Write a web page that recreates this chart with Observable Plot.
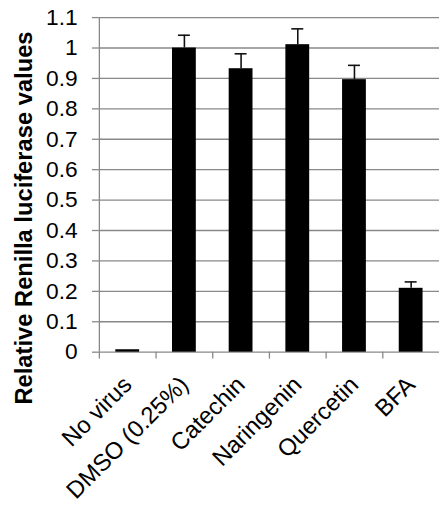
<!DOCTYPE html>
<html>
<head>
<meta charset="utf-8">
<script src="https://cdn.jsdelivr.net/npm/d3@7"></script>
<script src="https://cdn.jsdelivr.net/npm/@observablehq/plot@0.6"></script>
<style>
  html, body { margin: 0; padding: 0; background: #fff; overflow: hidden; }
  #chart { width: 439px; height: 508px; overflow: hidden; }
  svg { font-family: "Liberation Sans", Arial, sans-serif; }
</style>
</head>
<body>
<div id="chart"></div>
<script>
const categories = ["No virus", "DMSO (0.25%)", "Catechin", "Naringenin", "Quercetin", "BFA"];
const values = [0.008, 1.0, 0.932, 1.011, 0.896, 0.210];
const errors = [0, 0.042, 0.049, 0.052, 0.047, 0.021];
const yTicks = [0, 0.1, 0.2, 0.3, 0.4, 0.5, 0.6, 0.7, 0.8, 0.9, 1, 1.1];
const yLabel = "Relative Renilla luciferase values";

const data = categories.map((c, i) => ({cat: c, value: values[i], err: errors[i], top: values[i] + errors[i]}));
const withErr = data.filter(d => d.err > 0);

const W = 444, H = 508, mL = 100, mR = 0, mT = 17.3, mB = 152.3;
const step = (W - mL - mR) / categories.length;
const grid = "#888";

const plot = Plot.plot({
  width: W,
  height: H,
  marginLeft: mL,
  marginRight: mR,
  marginTop: mT,
  marginBottom: mB,
  style: {fontFamily: "Liberation Sans, Arial, sans-serif", background: "#fff"},
  x: {domain: categories, paddingInner: 0.58, paddingOuter: 0.29, align: 0.5, round: false, label: null},
  y: {domain: [0, 1.1], label: null},
  marks: [
    Plot.gridY(yTicks, {stroke: grid, strokeOpacity: 1, strokeWidth: 1.3}),
    Plot.ruleX([categories[0]], {dx: -step / 2, stroke: grid, strokeWidth: 1.3}),
    Plot.axisY(yTicks, {
      tickSize: 7, tickPadding: 15, stroke: grid, strokeWidth: 1.3,
      tickFormat: d => String(+d.toFixed(1)), fontSize: 23, fill: "#000", label: null
    }),
    Plot.axisX(categories, {
      tickSize: 7, dx: -step / 2, stroke: grid, strokeWidth: 1.3,
      tickFormat: () => "", label: null
    }),
    Plot.axisX(categories, {
      tickSize: 0, tickPadding: 29, tickRotate: -45, fontSize: 24, fill: "#000", label: null
    }),
    Plot.barY(data, {x: "cat", y: "value", fill: "#000"}),
    Plot.ruleX(withErr, {x: "cat", y1: "value", y2: "top", stroke: "#111", strokeWidth: 1.6}),
    Plot.tickY(withErr, {x: "cat", y: "top", stroke: "#111", strokeWidth: 1.6, inset: 6}),
    Plot.text([yLabel], {
      frameAnchor: "left", textAnchor: "middle", lineAnchor: "middle", rotate: -90, dx: -76, dy: 33.5,
      fontSize: 24, fontWeight: "bold", fill: "#000"
    })
  ]
});
document.getElementById("chart").appendChild(plot);
</script>
</body>
</html>
